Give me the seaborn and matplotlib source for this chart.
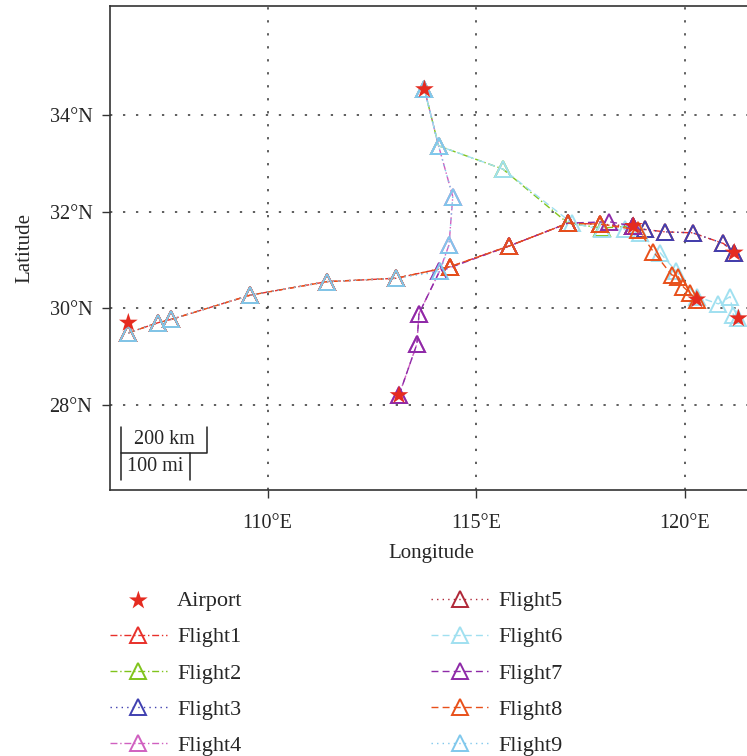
import numpy as np
import seaborn as sns
import matplotlib.pyplot as plt

# airports (lon, lat)
airport_lon = [106.66, 113.76, 113.15, 118.77, 121.19, 120.29, 121.29]
airport_lat = [29.70, 34.53, 28.20, 31.70, 31.15, 30.18, 29.79]

# flight tracks
flight1_lon = [106.66, 107.37, 107.69, 109.58, 111.42, 113.08, 114.38, 115.80, 117.20, 117.97, 119.04, 119.53, 120.19, 120.93, 121.19]
flight1_lat = [29.49, 29.70, 29.77, 30.27, 30.55, 30.62, 30.86, 31.29, 31.76, 31.74, 31.63, 31.58, 31.56, 31.34, 31.15]
flight2_lon = [113.76, 114.10, 115.64, 117.20, 118.01, 118.77]
flight2_lat = [34.53, 33.36, 32.88, 31.76, 31.66, 31.70]
flight3_lon = [118.77, 119.04, 119.53, 120.19, 120.93, 121.19]
flight3_lat = [31.70, 31.63, 31.58, 31.56, 31.34, 31.15]
flight4_lon = [113.15, 113.58, 113.63, 114.12, 114.35, 114.44, 114.10, 113.76]
flight4_lat = [28.20, 29.26, 29.89, 30.76, 31.31, 32.31, 33.36, 34.53]
flight5_lon = [106.66, 107.37, 107.69, 109.58, 111.42, 113.08, 114.38, 115.80, 117.20, 117.97, 118.77]
flight5_lat = [29.49, 29.70, 29.77, 30.27, 30.55, 30.62, 30.86, 31.29, 31.76, 31.74, 31.70]
flight6_lon = [113.76, 114.10, 115.64, 117.30, 118.01, 118.57, 118.92, 119.41, 119.80, 120.29, 120.81, 121.09, 121.17, 121.29]
flight6_lat = [34.53, 33.36, 32.88, 31.76, 31.63, 31.63, 31.55, 31.15, 30.76, 30.24, 30.09, 30.24, 29.86, 29.79]
flight7_lon = [113.15, 113.58, 113.63, 114.12, 115.80, 117.20, 118.19, 118.77]
flight7_lat = [28.20, 29.26, 29.89, 30.76, 31.29, 31.76, 31.79, 31.70]
flight8_lon = [106.66, 107.37, 107.69, 109.58, 111.42, 113.08, 114.38, 115.80, 117.20, 117.97, 118.89, 119.25, 119.69, 119.85, 119.97, 120.12, 120.29]
flight8_lat = [29.49, 29.70, 29.77, 30.27, 30.55, 30.62, 30.86, 31.29, 31.76, 31.74, 31.62, 31.17, 30.69, 30.65, 30.44, 30.32, 30.18]
flight9_lon = [106.66, 107.37, 107.69, 109.58, 111.42, 113.08, 114.14, 114.35, 114.44, 114.10, 113.76]
flight9_lat = [29.49, 29.70, 29.77, 30.27, 30.55, 30.62, 30.76, 31.31, 32.31, 33.36, 34.53]

flights = [
    ("Flight1", flight1_lon, flight1_lat, "#e8302a", (0, (5, 2, 1, 2))),
    ("Flight2", flight2_lon, flight2_lat, "#80c41c", (0, (5, 2, 1, 2))),
    ("Flight3", flight3_lon, flight3_lat, "#4040b0", (0, (1, 3))),
    ("Flight4", flight4_lon, flight4_lat, "#d060c0", (0, (5, 2, 1, 2))),
    ("Flight5", flight5_lon, flight5_lat, "#b02838", (0, (1, 3))),
    ("Flight6", flight6_lon, flight6_lat, "#a0e0f0", (0, (5, 3))),
    ("Flight7", flight7_lon, flight7_lat, "#8e2aa8", (0, (5, 3))),
    ("Flight8", flight8_lon, flight8_lat, "#e8501a", (0, (5, 3))),
    ("Flight9", flight9_lon, flight9_lat, "#80c8ec", (0, (1, 3))),
]

x_ticks = [110, 115, 120]
y_ticks = [28, 30, 32, 34]

sns.set_theme(style="ticks")
plt.rcParams['font.family'] = ['Liberation Serif', 'DejaVu Serif']
plt.rcParams['font.size'] = 14.5

fig = plt.figure(figsize=(7.47, 7.56), dpi=100)
ax = fig.add_axes([0.1478, 0.3519, 0.8597, 0.6406])

for name, lon, lat, color, ls in flights:
    sns.lineplot(x=lon, y=lat, sort=False, estimator=None, ax=ax, label=name,
                 color=color, linestyle=ls, linewidth=1.0, marker='^', markersize=11.5,
                 markerfacecolor='none', markeredgecolor=color, markeredgewidth=1.4)

sns.scatterplot(x=airport_lon, y=airport_lat, marker='*', s=200, color='#e52b20',
                edgecolor='none', ax=ax, label='Airport', zorder=10)

ax.set_xlim(106.23, 121.63)
ax.set_ylim(26.24, 36.26)
ax.set_xticks(x_ticks)
ax.set_xticklabels([f"{v}°E" for v in x_ticks])
ax.set_yticks(y_ticks)
ax.set_yticklabels([f"{v}°N" for v in y_ticks])
ax.tick_params(direction='out', length=6, width=1, color='#333333', labelsize=14.5)
ax.tick_params(axis='x', pad=11)
ax.tick_params(axis='y', pad=7)
ax.grid(True, color='#333333', linestyle=(0, (1.5, 7)), linewidth=1.1)
for s in ax.spines.values():
    s.set_color('#333333')
    s.set_linewidth(1.2)
ax.spines['right'].set_visible(False)
ax.set_xlabel("Longitude", fontsize=15, labelpad=8)
ax.set_ylabel("Latitude", fontsize=15, labelpad=11)

# scale bar (200 km / 100 mi)
km_deg = 111.32 * np.cos(np.radians(30))
x0, ytop, ymid, ybot = 106.48, 27.55, 27.01, 26.45
x_km = x0 + 200 / km_deg
x_mi = x0 + 160.9 / km_deg
ax.plot([x0, x0], [ytop, ybot], color='#222222', lw=1.1)
ax.plot([x0, x_km, x_km], [ymid, ymid, ytop], color='#222222', lw=1.1)
ax.plot([x_mi, x_mi], [ymid, ybot], color='#222222', lw=1.1)
ax.text((x0 + x_km) / 2, (ytop + ymid) / 2, "200 km", ha='center', va='center', fontsize=14.5)
ax.text((x0 + x_mi) / 2, (ymid + ybot) / 2, "100 mi", ha='center', va='center', fontsize=14.5)

handles, labels = ax.get_legend_handles_labels()
order = [labels.index('Airport')] + [labels.index(f"Flight{i}") for i in range(1, 10)]
ax.get_legend().remove()
fig.legend([handles[i] for i in order], [labels[i] for i in order], ncol=2,
           loc='upper left', bbox_to_anchor=(0.147, 0.2186), frameon=False,
           fontsize=16, handlelength=2.57, handletextpad=0.45, columnspacing=8.5,
           labelspacing=0.7, borderpad=0, borderaxespad=0)

fig.savefig("out.png", dpi=100)
